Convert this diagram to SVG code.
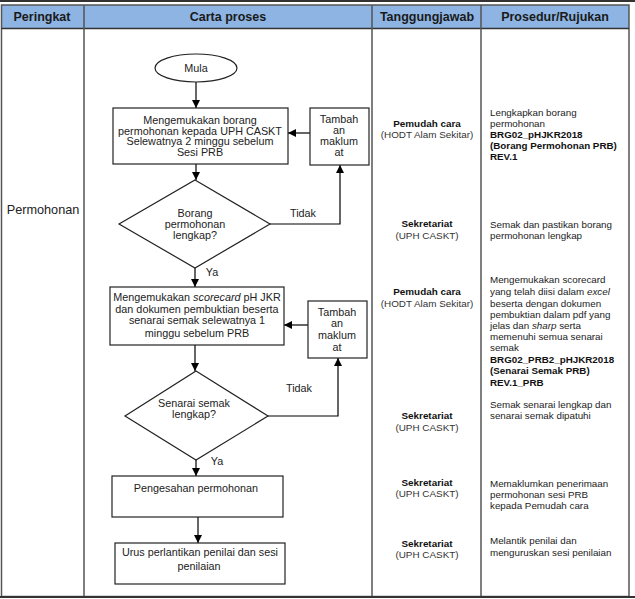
<svg xmlns="http://www.w3.org/2000/svg" width="635" height="599" viewBox="0 0 635 599">
<defs>
<marker id="ah" viewBox="0 0 10 10" refX="10" refY="5" markerWidth="8" markerHeight="8" markerUnits="userSpaceOnUse" orient="auto">
<path d="M0,0 L10,5 L0,10 z" fill="#000"/>
</marker>
<style>
.grid{stroke:#555;stroke-width:1.5;fill:none}
.shape{fill:#fff;stroke:#222;stroke-width:1.2}
.conn{stroke:#000;stroke-width:1.2;fill:none;marker-end:url(#ah)}
.hd{font-family:"Liberation Sans",Arial,sans-serif;font-size:12.5px;font-weight:bold;fill:#1a1a1a;text-anchor:middle}
.ft{font-family:"Liberation Sans",Arial,sans-serif;font-size:10.8px;fill:#222;text-anchor:middle}
.c3{font-family:"Liberation Sans",Arial,sans-serif;font-size:9.9px;fill:#333;text-anchor:middle}
.c3b{font-family:"Liberation Sans",Arial,sans-serif;font-size:9.9px;font-weight:bold;fill:#111;text-anchor:middle}
.c4{font-family:"Liberation Sans",Arial,sans-serif;font-size:9.8px;fill:#222}
.c4b{font-family:"Liberation Sans",Arial,sans-serif;font-size:9.8px;font-weight:bold;fill:#111}
</style>
</defs>
<rect x="0" y="0" width="635" height="599" fill="#fff"/>
<g id="table">
<line x1="0" y1="1" x2="635" y2="1" stroke="#333" stroke-width="2"/>
<rect x="1.5" y="5" width="627.5" height="23" fill="#8DB4E2"/>
<rect x="1.5" y="5" width="627.5" height="591.5" class="grid"/>
<line x1="1.5" y1="28.5" x2="629" y2="28.5" stroke="#333" stroke-width="1.5"/>
<line x1="84" y1="5" x2="84" y2="596.5" class="grid"/>
<line x1="372" y1="5" x2="372" y2="596.5" class="grid"/>
<line x1="481" y1="5" x2="481" y2="596.5" class="grid"/>
<line x1="0" y1="597" x2="635" y2="597" stroke="#333" stroke-width="2"/>
<text class="hd" x="42" y="21">Peringkat</text>
<text class="hd" x="228" y="21">Carta proses</text>
<text class="hd" x="427" y="21">Tanggungjawab</text>
<text class="hd" x="555" y="21">Prosedur/Rujukan</text>
<text x="43" y="214" font-family="'Liberation Sans',Arial,sans-serif" font-size="12.7px" fill="#222" text-anchor="middle">Permohonan</text>
</g>
<g id="connectors">
<path class="conn" d="M196,82 L196,108"/>
<path class="conn" d="M310,133 L288,133"/>
<path class="conn" d="M196,164 L196,180"/>
<path class="conn" d="M270,224 L340,224 L340,165"/>
<path class="conn" d="M195,268 L195,287"/>
<path class="conn" d="M308,325 L284,325"/>
<path class="conn" d="M195,345 L195,371"/>
<path class="conn" d="M268,416 L338,416 L338,358"/>
<path class="conn" d="M196,460 L196,476"/>
<path class="conn" d="M198,517 L198,543"/>
<text class="ft" x="303" y="217">Tidak</text>
<text class="ft" x="212" y="276">Ya</text>
<text class="ft" x="299" y="392">Tidak</text>
<text class="ft" x="217" y="465">Ya</text>
</g>
<g id="mula">
<ellipse class="shape" cx="196" cy="68" rx="41" ry="14"/>
<text class="ft" x="196" y="72">Mula</text>
</g>
<g id="box1">
<rect class="shape" x="113" y="108" width="175" height="56"/>
<text class="ft" x="200" y="124">Mengemukakan borang</text>
<text class="ft" x="200" y="134.7">permohonan kepada UPH CASKT</text>
<text class="ft" x="200" y="145.3">Selewatnya 2 minggu sebelum</text>
<text class="ft" x="200" y="156">Sesi PRB</text>
</g>
<g id="tambah1">
<rect class="shape" x="310" y="108" width="59" height="57"/>
<text class="ft" x="339" y="123">Tambah</text>
<text class="ft" x="339" y="134">an</text>
<text class="ft" x="339" y="144.5">maklum</text>
<text class="ft" x="339" y="155.5">at</text>
</g>
<g id="decision1">
<polygon class="shape" points="195,180 270,224 195,268 119,224"/>
<text class="ft" x="195" y="217">Borang</text>
<text class="ft" x="195" y="228">permohonan</text>
<text class="ft" x="195" y="239">lengkap?</text>
</g>
<g id="box2">
<rect class="shape" x="110" y="287" width="174" height="58"/>
<text class="ft" x="197" y="301">Mengemukakan <tspan font-style="italic">scorecard</tspan> pH JKR</text>
<text class="ft" x="197" y="312.5">dan dokumen pembuktian beserta</text>
<text class="ft" x="197" y="324">senarai semak selewatnya 1</text>
<text class="ft" x="197" y="336.5">minggu sebelum PRB</text>
</g>
<g id="tambah2">
<rect class="shape" x="308" y="301" width="59" height="57"/>
<text class="ft" x="337" y="315.5">Tambah</text>
<text class="ft" x="337" y="327">an</text>
<text class="ft" x="337" y="339">maklum</text>
<text class="ft" x="337" y="350.5">at</text>
</g>
<g id="decision2">
<polygon class="shape" points="196,371 268,416 196,460 125,416"/>
<text class="ft" x="194" y="407">Senarai semak</text>
<text class="ft" x="194" y="418">lengkap?</text>
</g>
<g id="box3">
<rect class="shape" x="112" y="476" width="171" height="41"/>
<text class="ft" x="196" y="492">Pengesahan permohonan</text>
</g>
<g id="box4">
<rect class="shape" x="115" y="543" width="170" height="41"/>
<text class="ft" x="200" y="556">Urus perlantikan penilai dan sesi</text>
<text class="ft" x="199" y="570">penilaian</text>
</g>
<g id="col3">
<text class="c3b" x="427" y="127">Pemudah cara</text>
<text class="c3" x="427" y="138">(HODT Alam Sekitar)</text>
<text class="c3b" x="427" y="227">Sekretariat</text>
<text class="c3" x="427" y="239">(UPH CASKT)</text>
<text class="c3b" x="427" y="295">Pemudah cara</text>
<text class="c3" x="427" y="307">(HODT Alam Sekitar)</text>
<text class="c3b" x="427" y="419">Sekretariat</text>
<text class="c3" x="427" y="431">(UPH CASKT)</text>
<text class="c3b" x="427" y="486">Sekretariat</text>
<text class="c3" x="427" y="497">(UPH CASKT)</text>
<text class="c3b" x="427" y="547">Sekretariat</text>
<text class="c3" x="427" y="558">(UPH CASKT)</text>
</g>
<g id="col4">
<text class="c4" x="490" y="116">Lengkapkan borang</text>
<text class="c4" x="490" y="127">permohonan</text>
<text class="c4b" x="490" y="138">BRG02_pHJKR2018</text>
<text class="c4b" x="490" y="149">(Borang Permohonan PRB)</text>
<text class="c4b" x="490" y="160">REV.1</text>
<text class="c4" x="490" y="228">Semak dan pastikan borang</text>
<text class="c4" x="490" y="239">permohonan lengkap</text>
<text class="c4" x="490" y="283">Mengemukakan scorecard</text>
<text class="c4" x="490" y="295">yang telah diisi dalam <tspan font-style="italic">excel</tspan></text>
<text class="c4" x="490" y="306.5">beserta dengan dokumen</text>
<text class="c4" x="490" y="318">pembuktian dalam pdf yang</text>
<text class="c4" x="490" y="329">jelas dan <tspan font-style="italic">sharp</tspan> serta</text>
<text class="c4" x="490" y="340">memenuhi semua senarai</text>
<text class="c4" x="490" y="351">semak</text>
<text class="c4b" x="490" y="363">BRG02_PRB2_pHJKR2018</text>
<text class="c4b" x="490" y="374">(Senarai Semak PRB)</text>
<text class="c4b" x="490" y="385.5">REV.1_PRB</text>
<text class="c4" x="490" y="408">Semak senarai lengkap dan</text>
<text class="c4" x="490" y="419">senarai semak dipatuhi</text>
<text class="c4" x="490" y="487">Memaklumkan penerimaan</text>
<text class="c4" x="490" y="498">permohonan sesi PRB</text>
<text class="c4" x="490" y="509">kepada Pemudah cara</text>
<text class="c4" x="490" y="544">Melantik penilai dan</text>
<text class="c4" x="490" y="556">menguruskan sesi penilaian</text>
</g>
</svg>
